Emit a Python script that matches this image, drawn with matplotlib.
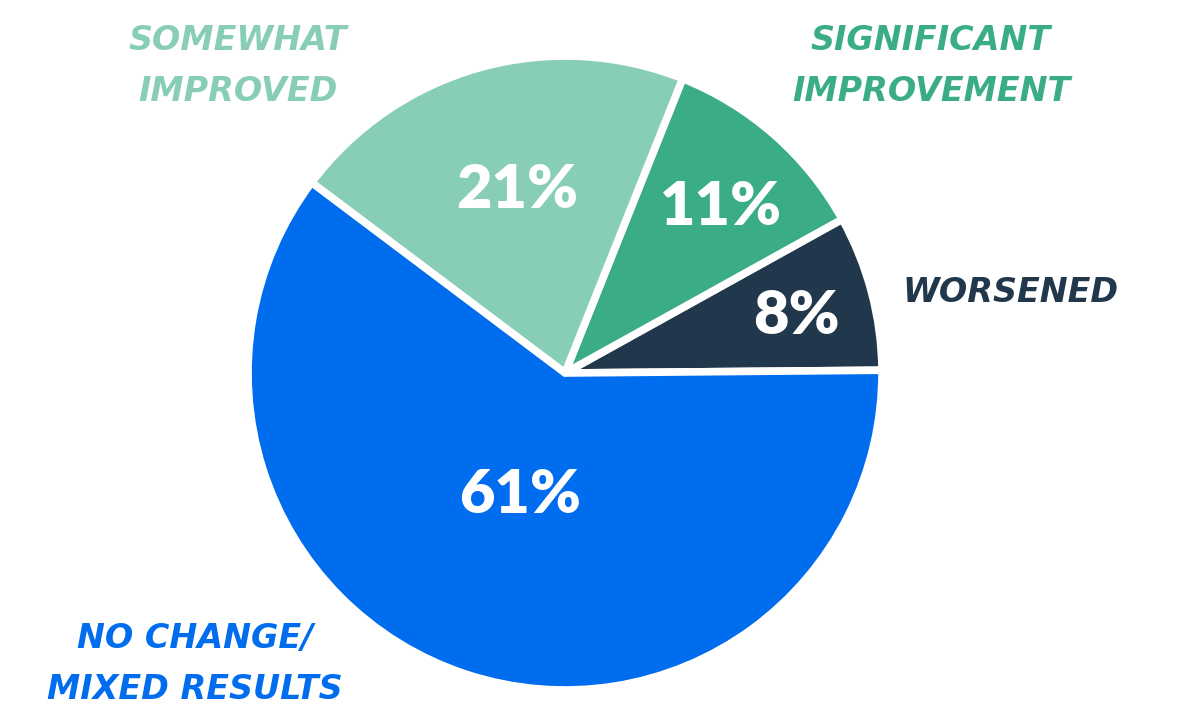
import matplotlib.pyplot as plt

# survey outcome shares (percent)
categories = ["WORSENED", "SIGNIFICANT\nIMPROVEMENT", "SOMEWHAT\nIMPROVED", "NO CHANGE/\nMIXED RESULTS"]
values = [8, 11, 21, 61]
colors = ["#21374b", "#3aad86", "#88cdb8", "#006cee"]

W, H = 1179, 721
fig = plt.figure(figsize=(W / 100, H / 100), dpi=100)
ax = fig.add_axes([0, 0, 1, 1])
ax.set_xlim(0, W)
ax.set_ylim(0, H)
ax.set_aspect("equal")
ax.axis("off")

cx, cy, r = 565, H - 373, 317
wedges, _ = ax.pie(values, colors=colors, startangle=0.5, counterclock=True,
                   center=(cx, cy), radius=r,
                   wedgeprops=dict(edgecolor="white", linewidth=5.5))
ax.set_xlim(0, W)
ax.set_ylim(0, H)

# percent labels inside slices
pct_pos = [(796, 316), (721, 207), (517, 190), (520, 495)]
for v, (px, py) in zip(values, pct_pos):
    ax.text(px, H - py, f"{v}%", color="white", fontsize=44, fontweight="heavy",
            family=["Lato", "DejaVu Sans"], ha="center", va="center")

# category labels outside
lab_pos = [(1011, 293), (931, 66), (238, 66), (195, 664)]
for name, c, (px, py) in zip(categories, colors, lab_pos):
    ax.text(px, H - py, name, color=c, fontsize=24, fontweight="bold",
            fontstyle="oblique", family="DejaVu Sans", ha="center", va="center",
            linespacing=1.68)

fig.savefig("out.png", dpi=100)
